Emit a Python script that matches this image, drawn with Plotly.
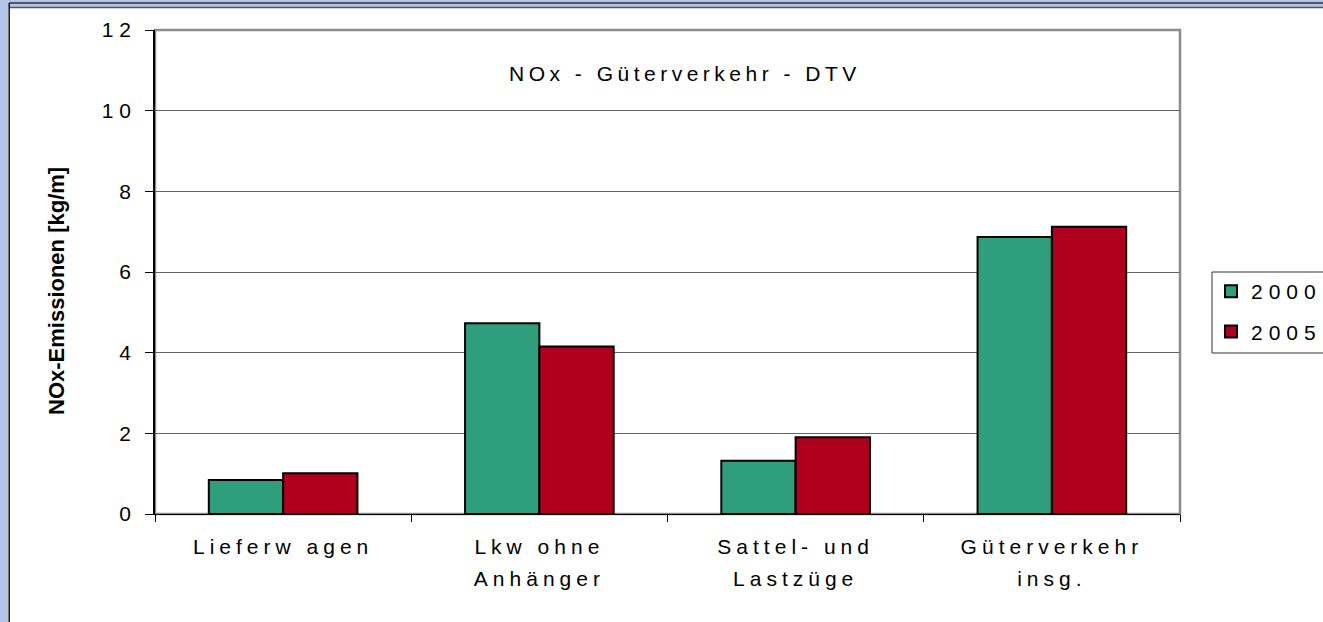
import plotly.graph_objects as go

categories = ["Lieferw agen", "Lkw ohne<br>Anhänger", "Sattel- und<br>Lastzüge", "Güterverkehr<br>insg."]
series_names = ["2000", "2005"]
values_2000 = [0.84, 4.73, 1.32, 6.87]
values_2005 = [1.01, 4.15, 1.90, 7.12]
y_ticks = [0, 2, 4, 6, 8, 10, 12]
chart_title = "NOx - Güterverkehr - DTV"
y_title = "NOx-Emissionen [kg/m]"

colors = ["#2e9e7d", "#b0001e"]
FONT = "Liberation Sans, Arial, sans-serif"

W, H = 1323, 622
L, R, T, B = 155, 1180, 30, 514


def px(x):
    return (x - L) / (R - L)


def py(y):
    return (B - y) / (B - T)


fig = go.Figure()
for name, vals, col in zip(series_names, [values_2000, values_2005], colors):
    fig.add_trace(go.Bar(
        x=categories, y=vals, name=name, legendgroup=name,
        marker=dict(color=col, line=dict(color="black", width=2)),
    ))

shapes = [
    # plot area border (top/right gray)
    dict(type="rect", xref="paper", yref="paper", x0=0, x1=1, y0=0, y1=1,
         line=dict(color="#8c8c8c", width=2.5), layer="below"),
    # outer frame: blue strips + dark lines
    dict(type="rect", xref="paper", yref="paper", x0=px(0), x1=px(W), y0=py(0), y1=py(7),
         fillcolor="#b4c6e7", line=dict(width=0)),
    dict(type="rect", xref="paper", yref="paper", x0=px(0), x1=px(8.5), y0=py(0), y1=py(H),
         fillcolor="#b4c6e7", line=dict(width=0)),
    dict(type="line", xref="paper", yref="paper", x0=px(9), x1=px(W), y0=py(3), y1=py(3),
         line=dict(color="#333333", width=1.5)),
    dict(type="line", xref="paper", yref="paper", x0=px(9), x1=px(W), y0=py(7.5), y1=py(7.5),
         line=dict(color="#555555", width=1.5)),
    dict(type="line", xref="paper", yref="paper", x0=px(9.2), x1=px(9.2), y0=py(3), y1=py(H),
         line=dict(color="#1a1a1a", width=1.5)),
    # legend box
    dict(type="rect", xref="paper", yref="paper", x0=px(1212), x1=px(1340), y0=py(272), y1=py(353),
         line=dict(color="#333333", width=1), fillcolor="rgba(0,0,0,0)"),
]

annotations = [
    dict(text=chart_title, xref="paper", yref="paper", x=px(685), y=py(73),
         showarrow=False, xanchor="center", yanchor="middle",
         font=dict(family=FONT, size=21, color="black")),
    dict(text="<b>" + y_title + "</b>", xref="paper", yref="paper", x=px(57), y=py(291),
         showarrow=False, textangle=-90, xanchor="center", yanchor="middle",
         font=dict(family=FONT, size=22, color="black")),
]

fig.update_layout(
    width=W, height=H,
    margin=dict(l=L, r=W - R, t=T, b=H - B, pad=0),
    paper_bgcolor="white", plot_bgcolor="white",
    bargap=0.42, bargroupgap=0,
    showlegend=True,
    legend=dict(x=px(1211), y=py(271), xanchor="left", yanchor="top",
                borderwidth=0, bgcolor="rgba(0,0,0,0)",
                font=dict(family=FONT, size=21, color="black"),
                tracegroupgap=10, traceorder="grouped", itemwidth=30),
    shapes=shapes,
    annotations=annotations,
    font=dict(family=FONT, color="black"),
)

fig.update_xaxes(
    type="category", showline=True, linecolor="black", linewidth=1,
    ticks="outside", tickson="boundaries", ticklen=7, tickcolor="black",
    showgrid=False, tickfont=dict(family=FONT, size=21, color="black"),
    ticklabelstandoff=14,
)
fig.update_yaxes(
    range=[0, 12], tickvals=y_ticks, ticks="outside", ticklen=8, tickcolor="black",
    showline=True, linecolor="black", linewidth=1.5,
    showgrid=True, gridcolor="#666666", gridwidth=1,
    zeroline=False, tickfont=dict(family=FONT, size=21, color="black"),
    ticklabelstandoff=4,
)

post = """
document.body.style.margin = '0';
var gd = document.getElementById('{plot_id}');
function sp(sel, v) { gd.querySelectorAll(sel).forEach(function(t){ t.style.letterSpacing = v; }); }
sp('.xtick text', '5px');
sp('.ytick text', '6px');
sp('.legendtext', '6px');
sp('.annotation[data-index="0"] text', '4.5px');
gd.querySelectorAll('.legend .scrollbox').forEach(function(s){ s.removeAttribute('clip-path'); });
gd.querySelectorAll('.xtick text tspan.line').forEach(function(t, i){
  if (t.getAttribute('dy') && t.getAttribute('dy') !== '0em') { t.setAttribute('dy', '1.5em'); }
});
"""

fig.write_html("out.html", post_script=post, config={"displayModeBar": False})
